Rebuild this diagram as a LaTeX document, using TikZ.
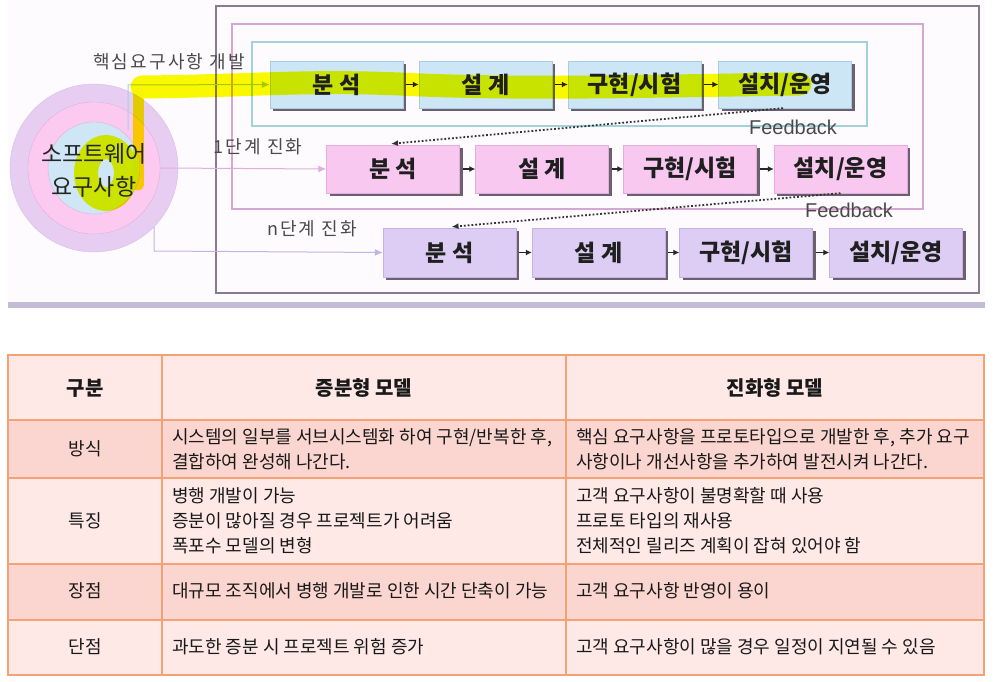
\documentclass[tikz,border=0pt]{standalone}
\usepackage{fontspec}
\setmainfont{Noto Sans CJK KR}
\newfontfamily\latf{Liberation Sans}
\usetikzlibrary{arrows.meta,shadows,calc}
\definecolor{topbg}{HTML}{FDFBFD}
\definecolor{bandc}{HTML}{C2BCD6}
\definecolor{outerc}{HTML}{8A7A8E}
\definecolor{pinkline}{HTML}{D8A6D2}
\definecolor{cyanline}{HTML}{A2D2DA}
\definecolor{bluefill}{HTML}{CCE6F6}
\definecolor{blueline}{HTML}{A9CCE4}
\definecolor{pinkfill}{HTML}{F8C8F0}
\definecolor{pinkbd}{HTML}{E4AEDC}
\definecolor{lavfill}{HTML}{DDCCF3}
\definecolor{lavbd}{HTML}{C6B2E4}
\definecolor{shadowc}{HTML}{6A6070}
\definecolor{ringout}{HTML}{E7CDF2}
\definecolor{ringmid}{HTML}{FCCAF1}
\definecolor{ringin}{HTML}{CFE6F6}
\definecolor{hlc}{HTML}{FCFC00}
\definecolor{txtgray}{HTML}{4A4A4A}
\definecolor{thead}{HTML}{FEE9E7}
\definecolor{tdark}{HTML}{FBD6D0}
\definecolor{tline}{HTML}{F4A273}
\tikzset{
  procbox/.style={rectangle, minimum width=133pt, minimum height=47pt, inner sep=0pt,
    font=\fontsize{23}{26}\selectfont\bfseries, text=black!88,
    drop shadow={shadow xshift=3pt, shadow yshift=-3pt, fill=shadowc, opacity=1}},
  bluebox/.style={procbox, fill=bluefill, draw=blueline},
  pinkbox/.style={procbox, fill=pinkfill, draw=pinkbd},
  lavbox/.style={procbox, fill=lavfill, draw=lavbd},
  boxtxt/.style={font=\fontsize{23}{26}\selectfont\bfseries, text=black!88, inner sep=0pt},
  stepar/.style={-{Latex[length=6pt,width=6pt]}, line width=1.3pt, black!85},
  fbar/.style={-{Latex[length=7pt,width=6pt]}, line width=1.8pt, dotted, black!80},
  lbl/.style={font=\fontsize{18}{20}\selectfont\addfontfeatures{LetterSpace=12}, text=txtgray, inner sep=0pt},
  fbl/.style={font=\latf\fontsize{20}{22}\selectfont, text=txtgray, inner sep=0pt},
  hl/.style={draw=hlc, blend mode=multiply, line cap=round, line join=round},
  cellt/.style={font=\fontsize{18}{25}\selectfont, text=black!90, inner sep=0pt, align=left, anchor=west},
  rowt/.style={font=\fontsize{18}{25}\selectfont, text=black!90, inner sep=0pt},
  headt/.style={font=\fontsize{20}{22}\selectfont\bfseries, text=black!90, inner sep=0pt},
  tbd/.style={draw=tline, line width=1.3pt}
}
\begin{document}
\begin{tikzpicture}[x=1pt,y=-1pt]
\useasboundingbox (0,0) rectangle (999,682);
\fill[white] (0,0) rectangle (999,682);
% ---------- top diagram ----------
\fill[topbg] (8,0) rectangle (985,302);
\fill[bandc] (8,302) rectangle (985,308);
\draw[outerc, line width=1.4pt] (216,6) rectangle (979,293);
\draw[pinkline, line width=1.2pt] (232,24) rectangle (923,209);
\draw[cyanline, line width=1.2pt] (252,42) rectangle (867,126);

% circles
\filldraw[fill=ringout, draw=lavbd!80] (94,168) circle[radius=84pt];
\filldraw[fill=ringmid, draw=pinkbd] (94,168) circle[radius=66pt];
\filldraw[fill=ringin, draw=pinkbd] (94,168) circle[radius=46pt];
\coordinate (cTop) at (128,130);
\coordinate (cTopK) at (128,85);
\coordinate (cMid) at (160,168);
\coordinate (cLow) at (154,227);
\coordinate (cLowK) at (154,251);

% boxes row 1
\node[bluebox] (a1) at (336.5,84.5) {};
\node[bluebox] (a2) at (485.5,84.5) {};
\node[bluebox] (a3) at (634.5,84.5) {};
\node[bluebox] (a4) at (785,84.5) {};
% row 2
\node[pinkbox, minimum height=48pt] (b1) at (393,169) {분 석};
\node[pinkbox, minimum height=48pt] (b2) at (542,169) {설 계};
\node[pinkbox, minimum height=48pt] (b3) at (690,169) {구현/시험};
\node[pinkbox, minimum height=48pt] (b4) at (840.5,169) {설치/운영};
% row 3
\node[lavbox, minimum height=49pt] (c1) at (449.5,252.5) {분 석};
\node[lavbox, minimum height=49pt] (c2) at (598.5,252.5) {설 계};
\node[lavbox, minimum height=49pt] (c3) at (746,252.5) {구현/시험};
\node[lavbox, minimum height=49pt] (c4) at (896,252.5) {설치/운영};

% step arrows
\foreach \r in {a,b,c}{
  \draw[stepar] ([xshift=3pt]\r1.east) -- (\r2.west);
  \draw[stepar] ([xshift=3pt]\r2.east) -- (\r3.west);
  \draw[stepar] ([xshift=3pt]\r3.east) -- (\r4.west);
}

% connectors from the circle
\draw[blueline, line width=1pt, -{Latex[length=8pt,width=7pt]}] (cTop) -- (cTopK) -- (a1.west);
\draw[pinkbd, line width=1pt, -{Latex[length=8pt,width=7pt]}] (cMid) -- (b1.west);
\draw[lavbd, line width=1pt, -{Latex[length=8pt,width=7pt]}] (cLow) -- (cLowK) -- (c1.west);

% feedback arrows
\draw[fbar] ([xshift=-2pt]a4.south) -- ([xshift=-2pt,yshift=1pt]b1.north);
\draw[fbar] (b4.south) -- ([xshift=2pt,yshift=1pt]c1.north);
\node[fbl] (fb1) at (793,127) {Feedback};
\node[fbl] (fb2) at (849,210) {Feedback};

% labels
\node[lbl] (l1) at (169,62) {핵심요구사항 개발};
\node[lbl] (l2) at (258,147) {1단계 진화};
\node[lbl] (l3) at (312,229) {n단계 진화};

% highlight
\draw[hl, line width=24pt] (106,173) ellipse[x radius=20pt, y radius=26pt];
\draw[hl, line width=11pt] (138,185) -- (138,92);
\draw[hl, line width=23pt] (142,87) .. controls (250,86) and (300,80) .. (400,84)
   .. controls (520,90) and (650,86) .. (800,84);

% texts over highlight
\node[font=\fontsize{23}{33}\selectfont, text=black!85, align=center, inner sep=0pt] (sw) at (94,170) {소프트웨어\\요구사항};
\node[boxtxt] (ta1) at (a1) {분 석};
\node[boxtxt] (ta2) at (a2) {설 계};
\node[boxtxt] (ta3) at (a3) {구현/시험};
\node[boxtxt] (ta4) at (a4) {설치/운영};

% ---------- table ----------
\fill[thead] (8,355) rectangle (984,420);
\fill[tdark] (8,420) rectangle (984,478);
\fill[thead] (8,478) rectangle (984,564);
\fill[tdark] (8,564) rectangle (984,620);
\fill[thead] (8,620) rectangle (984,675);
\draw[tbd] (8,355) rectangle (984,675);
\foreach \yy in {420,478,564,620} \draw[tbd] (8,\yy) -- (984,\yy);
\draw[tbd] (162,355) -- (162,675);
\draw[tbd] (566,355) -- (566,675);

\node[headt] (h1) at (85,388) {구분};
\node[headt] (h2) at (364,388) {증분형 모델};
\node[headt] (h3) at (775,388) {진화형 모델};

\node[rowt] (r1) at (85,449) {방식};
\node[rowt] (r2) at (85,521) {특징};
\node[rowt] (r3) at (85,591) {장점};
\node[rowt] (r4) at (85,647) {단점};

\node[cellt] (p1) at (172,449.5) {시스템의 일부를 서브시스템화 하여 구현/반복한 후,\\결합하여 완성해 나간다.};
\node[cellt] (q1) at (576,449.5) {핵심 요구사항을 프로토타입으로 개발한 후, 추가 요구\\사항이나 개선사항을 추가하여 발전시켜 나간다.};
\node[cellt] (p2) at (172,521) {병행 개발이 가능\\증분이 많아질 경우 프로젝트가 어려움\\폭포수 모델의 변형};
\node[cellt] (q2) at (576,521) {고객 요구사항이 불명확할 때 사용\\프로토 타입의 재사용\\전체적인 릴리즈 계획이 잡혀 있어야 함};
\node[cellt] (p3) at (172,591) {대규모 조직에서 병행 개발로 인한 시간 단축이 가능};
\node[cellt] (q3) at (576,591) {고객 요구사항 반영이 용이};
\node[cellt] (p4) at (172,647) {과도한 증분 시 프로젝트 위험 증가};
\node[cellt] (q4) at (576,647) {고객 요구사항이 많을 경우 일정이 지연될 수 있음};
\end{tikzpicture}
\end{document}
